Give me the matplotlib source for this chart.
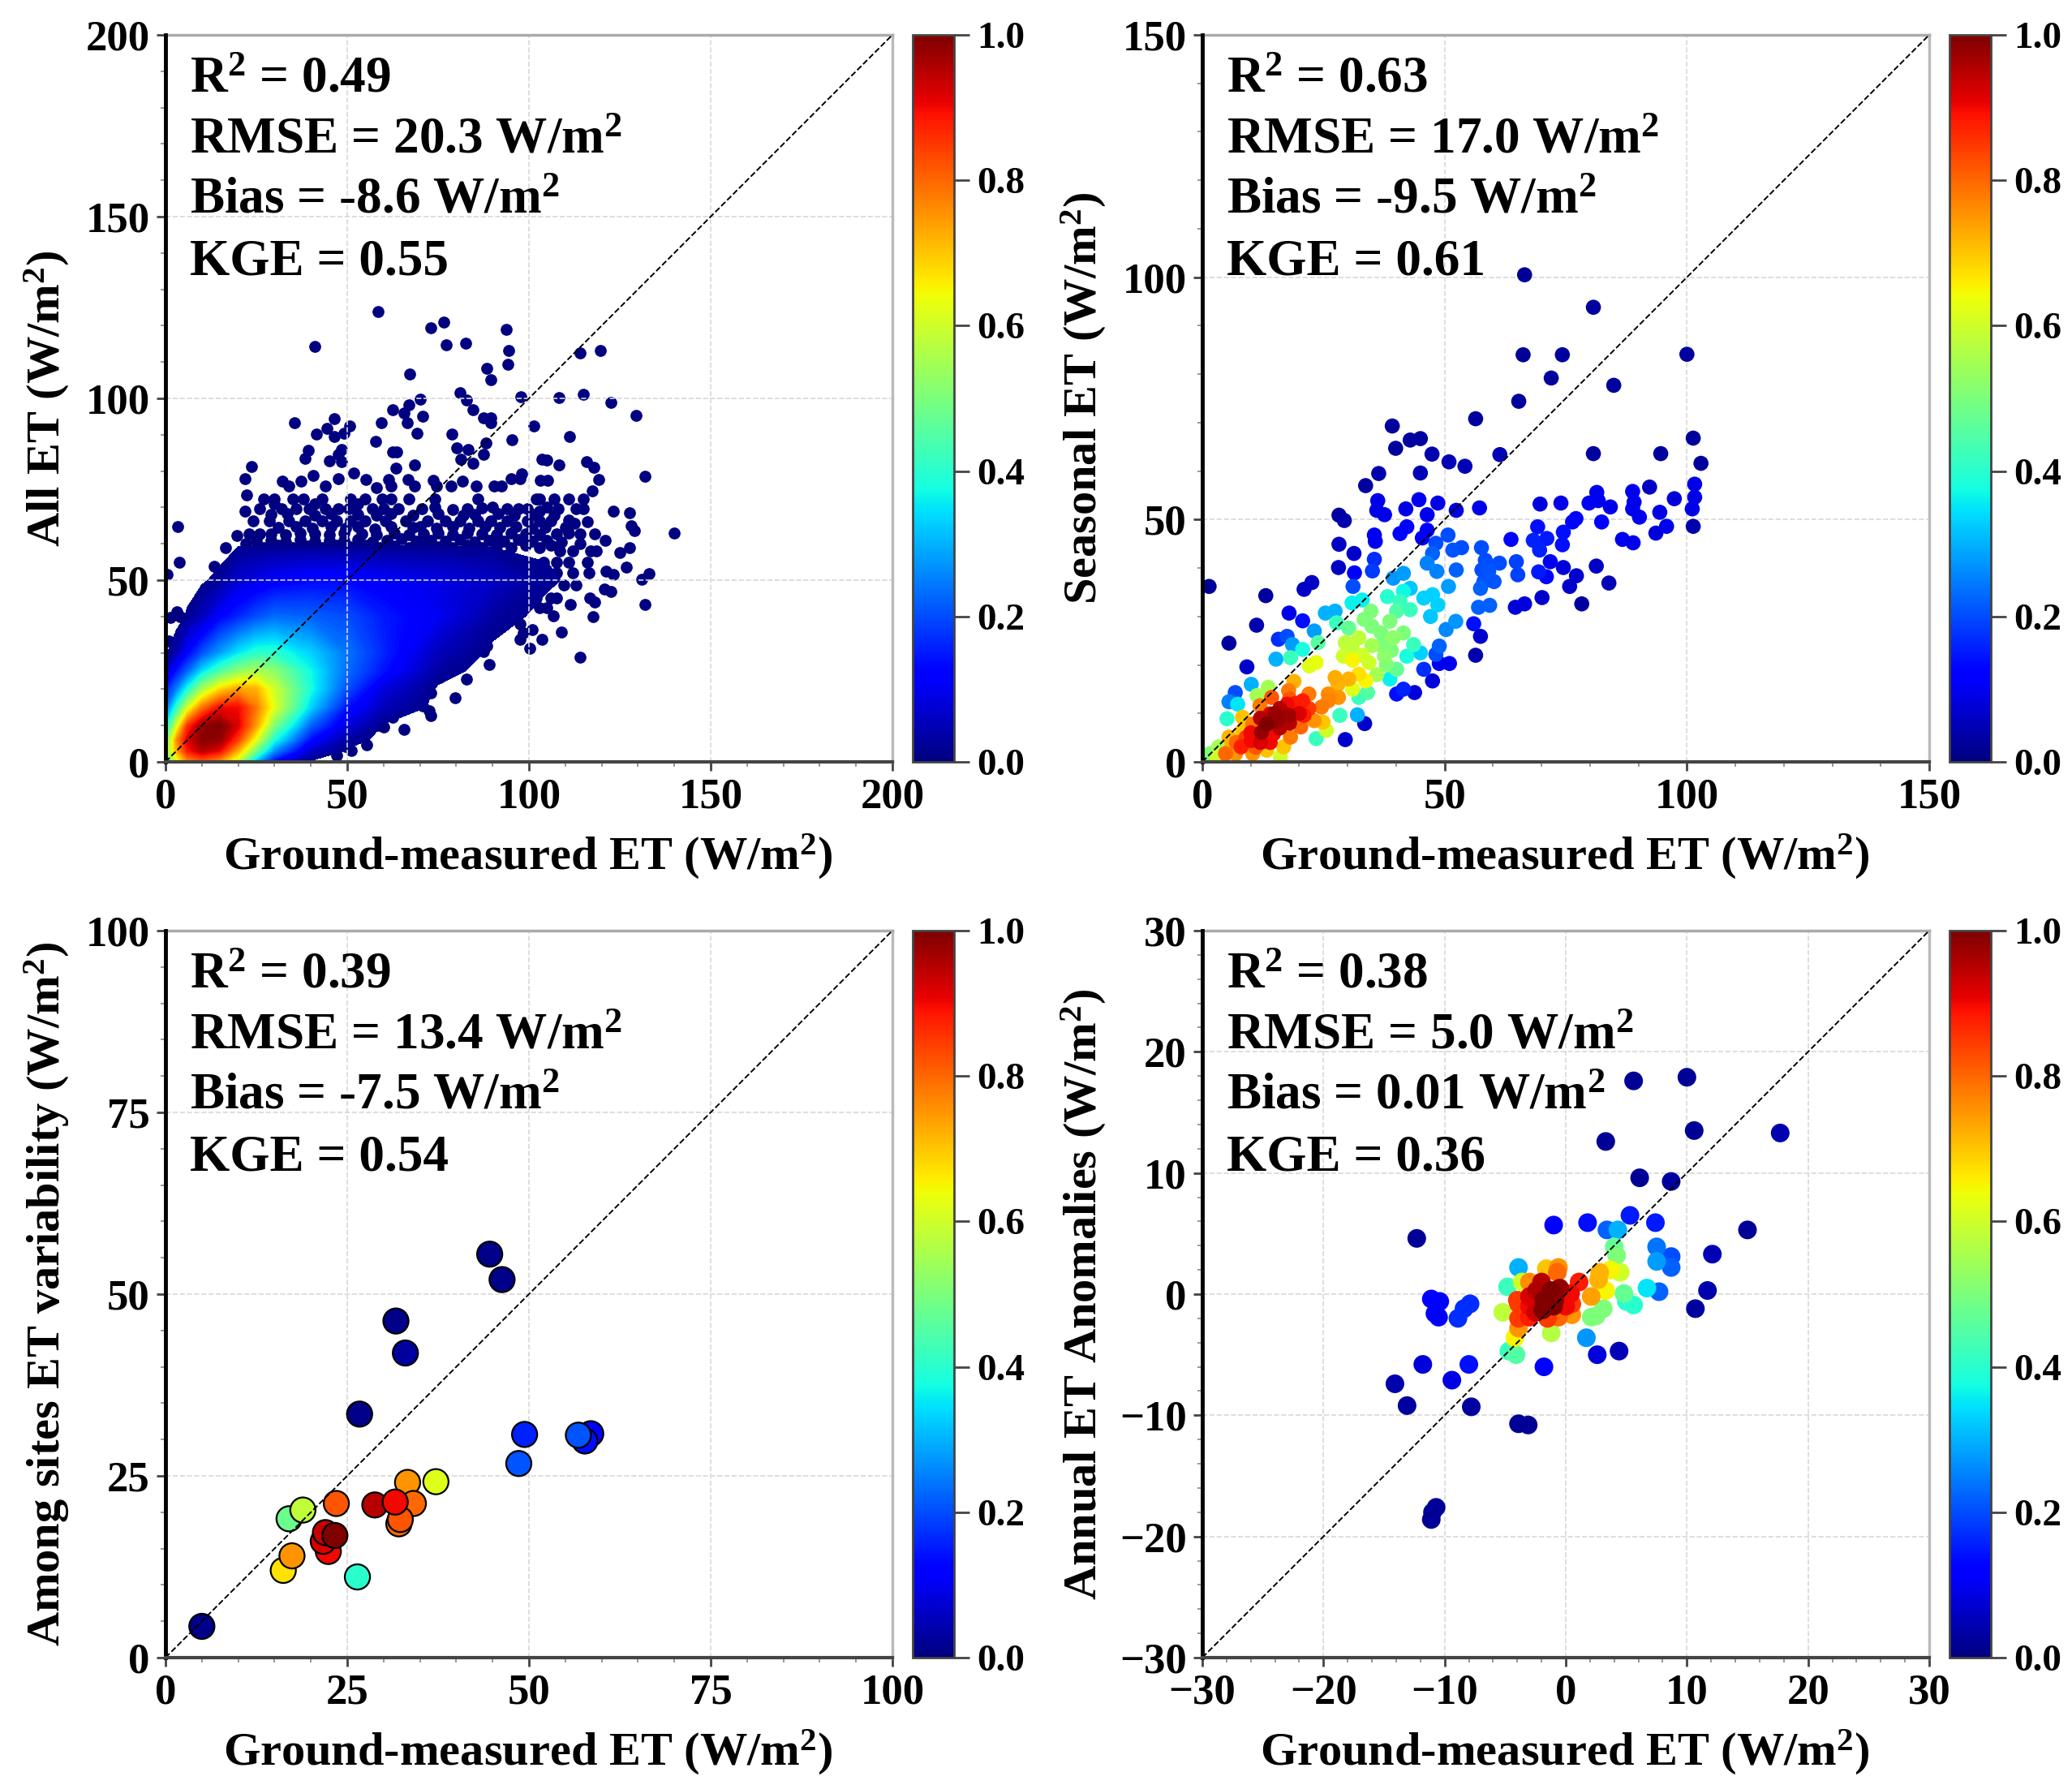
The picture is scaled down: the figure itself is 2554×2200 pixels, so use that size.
import numpy as np
import matplotlib
matplotlib.use("Agg")
import matplotlib.pyplot as plt
from matplotlib.cm import ScalarMappable
from matplotlib.colors import Normalize
from matplotlib.ticker import AutoMinorLocator

plt.rcParams['font.family'] = ['Liberation Serif', 'DejaVu Serif']
plt.rcParams['font.weight'] = 'bold'
plt.rcParams['axes.labelweight'] = 'bold'
plt.rcParams['mathtext.fontset'] = 'custom'
plt.rcParams['mathtext.rm'] = 'Liberation Serif:bold'
plt.rcParams['mathtext.default'] = 'rm'

# density of the all-ET cloud (rows follow all_grid_y)
all_grid_x = [0, 3, 6, 10, 15, 20, 25, 30, 40, 50, 60, 75, 90, 105, 120]
all_grid_y = [0, 3, 6, 10, 15, 20, 25, 30, 40, 50, 60, 70]
all_density = [
    [.45, .60, .75, .80, .74, .58, .30, .12, .01, 0, 0, 0, 0, 0, 0],
    [.50, .72, .88, .95, .90, .72, .48, .26, .06, .01, 0, 0, 0, 0, 0],
    [.45, .75, .92, .99, .98, .84, .62, .38, .13, .03, .005, 0, 0, 0, 0],
    [.35, .60, .85, .98, 1.0, .92, .74, .50, .22, .08, .012, 0, 0, 0, 0],
    [.22, .40, .60, .78, .90, .90, .78, .62, .33, .14, .05, .005, 0, 0, 0],
    [.15, .25, .38, .55, .68, .74, .72, .60, .38, .20, .08, .01, 0, 0, 0],
    [.06, .14, .22, .34, .44, .52, .56, .52, .37, .23, .14, .03, 0, 0, 0],
    [.01, .04, .12, .20, .28, .35, .40, .40, .33, .24, .16, .05, .008, 0, 0],
    [0, 0, .02, .05, .12, .16, .20, .23, .22, .20, .15, .10, .03, .005, 0],
    [0, 0, 0, .01, .025, .07, .09, .11, .13, .13, .11, .09, .06, .02, 0],
    [0, 0, 0, 0, 0, .01, .01, .01, .01, .01, .01, .01, .01, .01, 0],
    [0, 0, 0, 0, 0, 0, 0, 0, 0, 0, 0, 0, 0, 0, 0],
]

# separate low-density points around the cloud
all_points = [
    (58.5, 123.8), (41.1, 114.3), (73.1, 119.5), (76.5, 121), (77.2, 114.7), (82.6, 115.1),
    (93.8, 119), (94.5, 113.2), (94.2, 109.4), (88.4, 108.2), (89.5, 105.2), (67.2, 106.7),
    (114, 112.4), (119.6, 113.1), (81.1, 101.5), (82.9, 99.6), (84.7, 96.8), (97.8, 100.5),
    (108.3, 100.3), (114.9, 101.2), (122.5, 98.8), (129.5, 95.4), (70, 99.7), (67, 98.2),
    (62.5, 96.9), (65.6, 96), (70.8, 95.1), (87.6, 94.7), (89.5, 94.6), (89.5, 93.4),
    (101.4, 92.5), (59.3, 93.2), (66.5, 93.2), (35.5, 93.2), (46.5, 94.5), (50.7, 92.3),
    (44.5, 91.7), (41.5, 90.1), (46.5, 89.4), (49, 90.4), (69.3, 90.4), (78.8, 90.2),
    (111.1, 89.6), (95.4, 88.7), (57.8, 88.2), (88.1, 87.7), (80.2, 86.4), (83.3, 86),
    (62.4, 85.3), (63.6, 85.3), (39.3, 85.8), (48.5, 86), (38.4, 83.4), (47.5, 84.6),
    (45.1, 82.9), (48.4, 82.5), (81.3, 83.3), (87.5, 84.5), (84.5, 82.2), (23.6, 81.3),
    (68.6, 81.8), (63.3, 80.7), (103.5, 83.3), (104.9, 83.1), (108.2, 81.8), (115.8, 82.5),
    (117.8, 81.1), (132, 78.5), (21.8, 77.8), (98.1, 79.2), (95.1, 77.8), (97.6, 77.8),
    (103.1, 77.4), (105.1, 77.5), (119.1, 77.6), (51.8, 79.4), (40.6, 78.7), (55.1, 77.6),
    (66.7, 77.6), (61.3, 77.6), (73.6, 77.4), (81.7, 77.2), (117.5, 74.6), (22.4, 73.5),
    (32.2, 77.2), (37.2, 77.2), (47.5, 77.8), (21.8, 68.9), (3.3, 64.8), (19.6, 62.3),
    (16.5, 58.9), (3.7, 55), (13.5, 53.9), (0.5, 51.5), (9.9, 44.9), (8.5, 42.5),
    (3.1, 41.2), (1.3, 39.7), (4, 39.9), (14, 43.6), (8.5, 37.7), (10.8, 39),
    (0.8, 33.2), (3.5, 33.2), (2.9, 31), (123.3, 68.9), (127.6, 68.6), (112.6, 65.6),
    (128.1, 64.9), (129, 63.6), (121, 61), (127.6, 58.9), (125.1, 57.5), (126.7, 53.5),
    (121.1, 52.5), (123.3, 51.5), (133.1, 51.8), (131, 50.2), (120.8, 47.6), (122.6, 46.9),
    (132, 43.2), (116.7, 45.2), (118.1, 43.9), (117.6, 39.9), (111.3, 43.2), (109, 35.8),
    (114, 28.7), (106.7, 40.1), (100.2, 31.3), (103.5, 33.8), (89, 26.8), (82.9, 22.8),
    (79.6, 17.7), (73.1, 12.7), (65.6, 9), (55.4, 4.6), (47.2, 1.8), (49.5, 4.2), (51.1, 3.1),
    (140, 63), (34, 76), (44, 76), (58, 75.5), (62, 76), (68.5, 76), (74.5, 76),
    (78.5, 76), (85.5, 76), (90.5, 76), (92.5, 76), (27, 72.4), (30, 72.4), (35, 72.4),
    (38, 72.4), (43, 72.4), (51, 72.4), (55, 72.4), (59.5, 72.4), (62, 72.4), (67, 72.4),
    (74, 72.4), (86, 72.4), (102, 72.4), (103, 72.4), (107, 72.4), (111, 72.4), (115, 72.4),
    (26, 69.7), (32, 69.7), (36, 69.7), (39.5, 69.7), (44, 69.7), (47.5, 69.7), (50.5, 69.7),
    (57, 69.7), (60, 69.7), (64, 69.7), (70.5, 69.7), (83, 69.7), (94, 69.7), (97, 69.7),
    (99.5, 69.7), (108, 69.7), (113, 69.7), (115, 69.7), (24, 66.2), (28.5, 66.2), (34, 66.2),
    (38.5, 66.2), (43, 66.2), (47, 66.2), (51, 66.2), (55, 66.2), (60.5, 66.2), (66, 66.2),
    (72, 66.2), (77, 66.2), (81, 66.2), (86, 66.2), (89.5, 66.2), (94, 66.2), (99.5, 66.2),
    (103, 66.2), (106, 66.2), (23, 62.7), (26, 62.7), (107.5, 62.7), (114, 62.7), (118, 62.7),
    (24, 58), (108.5, 58), (112, 58), (117, 58), (118.5, 58), (19.5, 54.8), (104, 54.8),
    (107.5, 54.8), (111, 54.8), (116, 54.8), (17.5, 52), (107.5, 52), (112, 52), (116.5, 52),
    (15.5, 48.7), (109.5, 48.7), (113, 48.7), (102, 48.7), (102, 45), (106, 45), (107.5, 45),
    (103, 42.5), (105, 42.5), (90, 38), (97.5, 38), (94, 40), (98.5, 35.5), (101, 36.4),
    (97.5, 33.8), (88.5, 32), (87.6, 30.3), (83, 28.5), (81, 26.8), (75, 25), (72, 26.3),
    (69.5, 28.5), (67.6, 20.6), (73, 18.9), (70.4, 18.9), (70.8, 15.4), (72.6, 14),
    (62.6, 15.4), (62.6, 12.3), (59.5, 14.5), (65.4, 16.2), (58.5, 10), (56.7, 9.6), (60, 9.6),
    (52.2, 9.2), (41.3, 4.8), (66.7, 25), (71.3, 22.4), (75.4, 23.2),
    (29, 62.7), (33, 62.5), (37, 63), (41, 62.7), (45, 62.4), (49, 63), (54, 62.7), (58, 62.5),
    (63, 63), (67, 62.6), (71, 62.8), (75, 63), (79, 62.6), (83, 63), (87, 62.7), (91, 62.4),
    (95, 63), (99, 62.7), (103, 62.5), (111, 63), (27, 59), (31, 59.5), (35, 59), (39, 59.4),
    (43, 59), (47, 59.5), (51, 59.2), (55, 59.5), (59, 59), (63, 59.4), (67, 59), (71, 59.5),
    (75, 59.2), (79, 59), (83, 59.5), (87, 59), (91, 59.4), (95, 59), (99, 59.5), (103, 59),
    (106, 59.5), (114, 60), (22, 60), (21, 57), (30, 71), (41, 71), (53, 71), (74, 70),
    (79, 69.5), (87, 69.8), (90, 70), (103, 69), (105, 70), (116, 66), (111, 66.5),
    (25, 60.8), (29, 61), (33, 60.6), (37, 61.2), (41, 60.7), (45, 61), (49, 60.9), (53, 61.2),
    (57, 60.6), (61, 61), (65, 61.3), (69, 60.7), (73, 61), (77, 60.8), (81, 61.2), (85, 60.6),
    (89, 61), (93, 60.8), (97, 61.2), (101, 60.7), (105, 61), (109, 60.6), (31, 64.4),
    (36, 64.7), (40.5, 64.2), (45.5, 64.8), (49.5, 64.3), (53, 64.7), (57.5, 64.1), (62, 64.8),
    (68, 64.4), (70, 64.8), (74.5, 64.3), (79, 64.7), (83.5, 64.2), (88, 64.8), (92, 64.4),
    (96.5, 64.7), (101, 64.2), (104.5, 64.6), (110, 64.4), (29, 68), (33.5, 68.2), (41, 67.9),
    (45.5, 68.3), (53, 68), (58, 67.8), (62, 68.2), (68, 67.9), (75, 68.3), (82, 67.9),
    (85, 68), (91.5, 68.2), (96, 67.9), (101, 68.1), (107, 67.9),
]

# x, y, colour value
seasonal_points = [
    (66.5, 100.5, .02), (80.7, 93.8, .03), (66.2, 84, .02), (74.3, 84, .03), (100, 84.1, .03),
    (72, 79.2, .03), (84.9, 77.7, .03), (65.3, 74.4, .03), (56.4, 70.8, .03), (39.2, 69.3, .03),
    (42.9, 66.4, .03), (45, 66.7, .03), (39.9, 64.7, .03), (47.4, 63.5, .04), (50.9, 61.9, .05),
    (54.2, 61, .05), (61.4, 63.4, .05), (80.7, 63.6, .03), (94.6, 63.6, .03), (101.3, 66.8, .03),
    (102.9, 61.6, .03), (36.4, 59.5, .04), (45, 59.6, .05), (33.7, 57, .03), (36.2, 53.9, .09),
    (36, 51.9, .09), (37.6, 51, .09), (44.7, 54.1, .1), (42, 52.2, .09), (48.6, 53.4, .09),
    (46.4, 51, .1), (52.4, 51.9, .08), (57.2, 52.4, .09), (28.2, 50.9, .03), (29.3, 49.8, .04),
    (69.7, 53.2, .08), (74, 53.4, .09), (81.4, 55.6, .1), (79.8, 53.4, .1), (81.7, 53.9, .1),
    (84.2, 52.6, .09), (88.8, 55.8, .1), (92.3, 56.7, .06), (89.1, 53.6, .1), (88.8, 52.2, .1),
    (90.2, 50.5, .1), (94.4, 51.5, .09), (97.4, 54.3, .08), (101.6, 57.3, .09), (101.6, 54.6, .09),
    (101.1, 52.2, .09), (101.3, 48.6, .04), (77.1, 50.2, .13), (76.4, 49.5, .13), (82.4, 49.5, .12),
    (95.8, 48.6, .1), (93.6, 47.2, .08), (86.7, 45.9, .1), (88.9, 45.2, .1), (69.2, 48.5, .14),
    (74.5, 47.4, .14), (74.3, 44.8, .14), (68.3, 45.7, .16), (71.1, 46.1, .15), (69.6, 43.7, .16),
    (63.7, 45.9, .13), (40.8, 47.1, .11), (42.2, 48.5, .12), (35.5, 46.8, .1), (35.7, 45.5, .1),
    (28.2, 44.9, .06), (31.3, 43, .07), (46.4, 47.8, .12), (45.4, 46.2, .12), (48.2, 45.1, .2),
    (50.7, 46.8, .2), (53.5, 44.2, .2), (51.7, 43.7, .21), (57.6, 44.2, .2), (47.5, 43, .22),
    (35.5, 41.8, .17), (28.1, 40.1, .06), (35.1, 39.4, .18), (31.4, 39, .12), (46.4, 41, .25),
    (48.4, 39.3, .25), (52.4, 39.6, .22), (58.4, 41.6, .2), (61.3, 41, .2), (57.7, 39.6, .2),
    (60.2, 37.2, .21), (58.1, 37.2, .21), (57.4, 35.8, .22), (59.1, 39.3, .21), (64.8, 41.3, .19),
    (65.1, 38.6, .19), (69.4, 39.2, .15), (71, 38.2, .13), (71.8, 41.3, .1), (74.5, 40.1, .08),
    (81.3, 40.4, .06), (77.2, 38.4, .07), (75.8, 36.2, .07), (83.9, 36.9, .05), (70.1, 33.9, .07),
    (66.5, 32.6, .08), (64.6, 31.9, .08), (78.3, 32.6, .03), (22.6, 37, .06), (21, 35.6, .06),
    (13.1, 34.3, .03), (1.4, 36.2, .02), (31.1, 36.2, .2), (39.4, 37.9, .27), (41.5, 38.9, .28),
    (50.8, 36.2, .28), (30.9, 32.8, .36), (33, 33.4, .36), (27.4, 31.1, .3), (25.4, 30.7, .3),
    (38.2, 34.1, .4), (41.5, 35.2, .37), (42.9, 35.8, .32), (40.8, 33.1, .42), (45.7, 33.8, .33),
    (47.5, 34.5, .33), (48.6, 32.4, .33), (47.1, 30, .32), (42.9, 31.4, .42), (40.1, 31.1, .45),
    (57, 31.9, .22), (59.3, 32.3, .22), (52.3, 29, .27), (56, 28.5, .14), (57.4, 25.9, .07),
    (56.4, 22, .04), (50.3, 27.3, .26), (11.2, 28.2, .04), (5.5, 24.5, .03), (17.9, 30.7, .09),
    (20.7, 29.1, .14), (23.1, 27, .28), (17.5, 25.9, .2), (15.7, 25.3, .17), (18.6, 24.2, .28),
    (34.8, 31.1, .5), (33.4, 29.4, .5), (27.7, 28.7, .42), (30.2, 27.6, .47), (38.7, 29, .5),
    (36.9, 26.6, .5), (39.4, 25.6, .52), (41.5, 26.6, .5), (43.6, 24.2, .42), (45, 22.5, .33),
    (48.9, 23.9, .22), (48.2, 22.2, .2), (48.9, 20.3, .1), (51, 20.3, .1), (45.7, 19.1, .17),
    (47.5, 16.7, .08), (42.2, 21.8, .38), (40.1, 19.1, .47), (38.7, 17.1, .36), (37.6, 21.8, .52),
    (32.3, 25.6, .58), (29.5, 24.6, .58), (30.9, 23.9, .58), (20.7, 23.2, .38), (18.2, 21.5, .42),
    (15.2, 21.2, .3), (23.9, 24.6, .45), (23.5, 20.5, .63), (22.1, 19.8, .62), (29.1, 21.8, .6),
    (34.4, 20.5, .6), (32.3, 18.1, .67), (27.4, 17.4, .73), (30.2, 17.1, .72), (33.7, 16.7, .65),
    (9.2, 19.6, .07), (10.1, 16, .3), (6.8, 14.3, .2), (5.5, 12.4, .25), (7.3, 11.9, .35),
    (5.1, 8.9, .4), (18.9, 16.6, .72), (17.8, 14.7, .78), (13.6, 15.4, .55), (11.3, 13.7, .55),
    (32.3, 13.3, .42), (34.1, 14.3, .45), (41.5, 15, .16), (40.1, 14, .14), (43.8, 14.3, .08),
    (28.1, 13.3, .75), (26, 12.6, .77), (24.6, 11.3, .78), (20.7, 12.6, .88), (21, 9.6, .88),
    (17.5, 11.9, .9), (14, 9.9, .92), (17.8, 9.6, .97), (15.4, 8.5, .98), (13.3, 7.8, 1),
    (12.2, 6.1, .98), (10.1, 4.4, .9), (8, 3.1, .88), (6.9, 1.7, .75), (14.7, 5.8, .9),
    (18.2, 5.1, .78), (16.8, 3.1, .7), (20.3, 7.2, .8), (23.1, 8.5, .75), (24.9, 8.2, .7),
    (25.6, 6.5, .6), (23.5, 4.8, .42), (28.4, 9.6, .42), (32, 9.7, .3), (33.5, 7.9, .07),
    (29.5, 4.6, .07), (10.4, 7.8, .78), (8.3, 6.5, .7), (5.5, 5.1, .72), (3.4, 3.1, .55),
    (1.6, 1.7, .5), (.6, .7, .45), (4.8, 1.7, .8), (10.4, 1.7, .75), (13.3, 2.4, .7),
    (16.1, 1, .6), (8.3, 9.2, .7), (11.9, 11.6, .78), (14.3, 13.3, .82),
    (12, 4, .92), (14, 4, .9), (16, 7, .95), (18, 8, .95), (20, 10, .92), (19, 12, .88),
    (16, 11, .95), (15, 10, .98), (12, 9, .95), (10, 6, .9), (9, 5, .85), (11, 3, .82),
    (7, 4, .8), (22, 11, .85), (18, 13, .82), (22, 14, .78), (26, 14, .76), (6, 3, .72),
    (3, 1, .6), (35, 24, .55), (37, 24, .5), (38, 20, .5), (36, 18, .55), (39, 23, .5),
    (33, 22, .6), (31, 21, .65), (28, 16, .72), (31, 15, .62), (35, 28, .5),
]

sites_points = [
    (5, 4.3, .01), (44.6, 55.5, .01), (46.3, 52, .01), (31.7, 46.3, .01), (33, 41.9, .03),
    (26.7, 33.5, .01), (58.5, 30.8, .13), (57.7, 29.8, .14), (49.4, 30.7, .16), (48.6, 26.7, .21),
    (56.8, 30.6, .21), (26.4, 11.1, .4), (17, 19.1, .48), (18.9, 20.3, .58), (37.2, 24.2, .62),
    (16.2, 12, .67), (33.3, 24.1, .75), (17.4, 14, .75), (34.1, 21.2, .8), (32.1, 18.4, .8),
    (32.3, 19, .82), (23.5, 21.2, .82), (22.4, 14.6, .9), (28.8, 21, .95), (31.6, 21.4, .9),
    (21.7, 16, .92), (22, 17.2, .94), (23.3, 16.8, 1.0),
]

anomaly_points = [
    (5.6, 17.6, .02), (10, 17.9, .02), (10.6, 13.5, .02), (17.7, 13.3, .04), (3.3, 12.6, .02),
    (6.1, 9.6, .02), (8.7, 9.3, .03), (-12.3, 4.6, .02), (15, 5.3, .02), (12.1, 3.3, .05),
    (11.7, .3, .04), (10.7, -1.2, .03), (-1, 5.7, .11), (1.8, 5.9, .14), (5.3, 6.5, .15),
    (7.4, 5.9, .15), (3.4, 5.3, .22), (4.3, 5.3, .3), (4, 3.9, .47), (4.2, 3.2, .5),
    (7.5, 3.9, .24), (8.7, 3.1, .2), (7.5, 2.7, .28), (8.7, 2.2, .22), (-3.9, 2.2, .3),
    (-.6, 2.2, .75), (-1.6, 2.1, .7), (-.7, 1.8, .8), (-3, 1, .76), (-3.6, 1, .6),
    (-4.8, .6, .42), (4.5, 1.8, .6), (3.7, 2, .65), (2.8, 1.8, .72), (2.7, 1.2, .72),
    (3.3, .3, .65), (2.1, -.2, .74), (1.1, 1, .88), (.4, .05, .9), (4.8, .05, .47),
    (6.7, .5, .35), (7.7, .2, .22), (5.6, -.9, .4), (5, -.6, .4), (3.1, -1.2, .5),
    (2.5, -1.8, .5), (2.1, -1.9, .5), (-11.1, -.4, .12), (-10.4, -.6, .12), (-10.8, -1.6, .12),
    (-10.5, -1.9, .12), (-7.9, -.8, .17), (-8.4, -1.2, .17), (-8.9, -2, .17), (-5.2, -1.5, .58),
    (-3.9, -.8, .85), (-3.9, -2, .85), (-3, -.2, .92), (-2.4, .3, .96), (-1.2, .3, 1),
    (-1.8, -.5, 1), (-1.9, -1.3, 1), (-.9, -.5, .99), (-3, -1.9, .88), (-.6, -1.9, .8),
    (.5, -1.7, .75), (.5, -.8, .85), (-1.2, -3.2, .57), (-3.9, -2.8, .75), (-4.2, -3.6, .65),
    (-4.7, -4.7, .42), (-4.1, -5, .45), (1.7, -3.6, .27), (2.6, -5, .08), (4.4, -4.7, .05),
    (-1.8, -6, .12), (-8, -5.8, .14), (-11.8, -5.8, .08), (-9.4, -7.1, .09), (-14.1, -7.4, .04),
    (-13.1, -9.2, .03), (-7.8, -9.3, .03), (-3.9, -10.7, .02), (-3.1, -10.8, .02),
    (-10.7, -17.6, .02), (-11, -18, .02), (-11.1, -18.6, .02),
    (-3, -1, .9), (-2.5, -1.5, .93), (-1, -1, 1), (-.5, .5, .98), (0, -1, .9), (-2, 1, .95),
    (-4, -.5, .85), (-1.5, -2, .85),
]

stats_all = ["0.49", "20.3", "-8.6", "0.55"]
stats_seasonal = ["0.63", "17.0", "-9.5", "0.61"]
stats_sites = ["0.39", "13.4", "-7.5", "0.54"]
stats_anomaly = ["0.38", "5.0", "0.01", "0.36"]

W, H = 2554, 2200
norm = Normalize(0, 1)
fig = plt.figure(figsize=(W / 100, H / 100), dpi=100)


def px_axes(left, top, width, height):
    return fig.add_axes([left / W, 1 - (top + height) / H, width / W, height / H])


def setup_panel(left, top, lims, step, ylabel, stats):
    ax = px_axes(left, top, 896, 896)
    ax.set_xlim(lims)
    ax.set_ylim(lims)
    ticks = np.arange(lims[0], lims[1] + step, step)
    ax.set_xticks(ticks)
    ax.set_yticks(ticks)
    ax.xaxis.set_minor_locator(AutoMinorLocator(5))
    ax.yaxis.set_minor_locator(AutoMinorLocator(5))
    ax.tick_params(which='major', length=8, width=2, labelsize=38, color='#444444', pad=6)
    ax.tick_params(which='minor', length=4, width=1.2, color='#888888')
    ax.grid(True, which='major', ls='--', lw=1.2, color='#d8d8d8', zorder=3)
    ax.plot(lims, lims, color='black', ls='--', lw=1.4, zorder=4)
    ax.spines['left'].set(color='black', linewidth=3.5, zorder=5)
    ax.spines['bottom'].set(color='#444444', linewidth=3, zorder=5)
    ax.spines['top'].set(color='#aaaaaa', linewidth=2.5)
    ax.spines['right'].set(color='#bbbbbb', linewidth=2.5)
    ax.set_xlabel("Ground-measured ET (W/m$^{2}$)", fontsize=42, va='center')
    ax.xaxis.set_label_coords(0.498, -0.130)
    ax.set_ylabel(ylabel, fontsize=42, va='center')
    ax.yaxis.set_label_coords(-0.163, 0.5)

    lines = ["R$^{2}$ = " + stats[0],
             "RMSE = " + stats[1] + " W/m$^{2}$",
             "Bias = " + stats[2] + " W/m$^{2}$",
             "KGE = " + stats[3]]
    for line, y in zip(lines, [.921, .838, .755, .670]):
        ax.text(.034, y, line, transform=ax.transAxes, fontsize=45.5, va='baseline', zorder=6)

    cax = px_axes(left + 921, top, 51, 896)
    cb = fig.colorbar(ScalarMappable(norm=norm, cmap='jet'), cax=cax)
    cb.set_ticks(np.arange(0, 1.01, .2))
    cb.ax.tick_params(length=14, width=2, labelsize=34, color='#444444', pad=6)
    cb.outline.set_edgecolor('#444444')
    cb.outline.set_linewidth(2)
    return ax


def colour_scatter(ax, points, size, **kw):
    x, y, c = np.array(points).T
    ax.scatter(x, y, c=c, s=size, cmap='jet', norm=norm, linewidths=kw.pop('lw', 0), zorder=2, **kw)


def sorted_by_colour(points):
    return sorted(points, key=lambda p: p[2])


# All ET
ax1 = setup_panel(204, 43, (0, 200), 50, "All ET (W/m$^{2}$)", stats_all)
xp, yp = np.array(all_points).T
ax1.scatter(xp, yp, s=112, color=plt.get_cmap('jet')(0.0), linewidths=0, zorder=1)
levels = np.concatenate([[.015], np.linspace(.02, 1.0, 150)])
ax1.contourf(all_grid_x, all_grid_y, np.array(all_density), levels=levels, cmap='jet',
             norm=norm, zorder=1.5)

# Seasonal
ax2 = setup_panel(1482, 43, (0, 150), 50, "Seasonal ET (W/m$^{2}$)", stats_seasonal)
colour_scatter(ax2, sorted_by_colour(seasonal_points), 180)

# Among sites
ax3 = setup_panel(204, 1147, (0, 100), 25, "Among sites ET variability (W/m$^{2}$)", stats_sites)
colour_scatter(ax3, sites_points, 500, edgecolors='black', lw=1.6)

# Anomalies
ax4 = setup_panel(1482, 1147, (-30, 30), 10, "Annual ET Anomalies (W/m$^{2}$)", stats_anomaly)
colour_scatter(ax4, sorted_by_colour(anomaly_points), 274)

fig.savefig("out.png", dpi=100, facecolor='white')
